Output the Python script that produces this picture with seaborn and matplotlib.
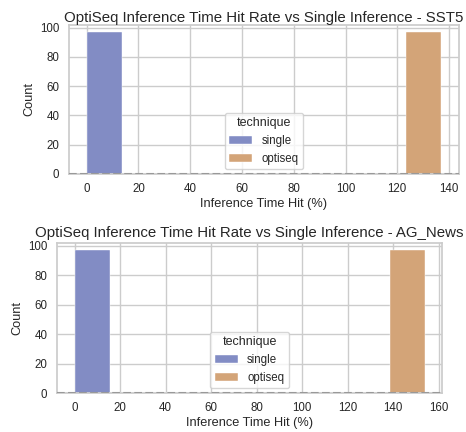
import matplotlib
matplotlib.use("Agg")
import matplotlib.pyplot as plt
import seaborn as sns
import pandas as pd

# Data
techniques = ["single", "optiseq"]
sst5_hit = [0.0, 137.0]        # inference time hit (%)
sst5_count = [97, 97]
ag_hit = [0.0, 153.7]
ag_count = [97, 97]
n_bins = 10

titles = [
    "OptiSeq Inference Time Hit Rate vs Single Inference - SST5",
    "OptiSeq Inference Time Hit Rate vs Single Inference - AG_News",
]

sns.set_theme(style="whitegrid")
plt.rcParams["font.family"] = ["Liberation Sans", "DejaVu Sans"]
plt.rcParams["xtick.major.pad"] = 6.5
plt.rcParams["ytick.major.pad"] = 7

palette = {"single": "#828cc4", "optiseq": "#d3a478"}

fig = plt.figure(figsize=(4.66, 4.32), dpi=100)
ax1 = fig.add_axes([69 / 466, 1 - 174 / 432, 390 / 466, 149 / 432])
ax2 = fig.add_axes([57 / 466, 1 - 393 / 432, 385 / 466, 150 / 432])

datasets = [(ax1, sst5_hit, sst5_count, titles[0], 2),
            (ax2, ag_hit, ag_count, titles[1], 4)]

for ax, hits, counts, title, pad in datasets:
    df = pd.DataFrame({"hit": hits, "count": counts, "technique": techniques})
    sns.histplot(data=df, x="hit", weights="count", hue="technique",
                 hue_order=techniques, bins=n_bins, palette=palette,
                 alpha=1.0, edgecolor="white", linewidth=0.3, ax=ax)
    ax.axhline(0, color="#999999", linestyle="--", linewidth=1.5, zorder=3)
    ax.set_title(title, fontsize=10.8, pad=pad)
    ax.set_xlabel("Inference Time Hit (%)", fontsize=9.2, labelpad=2)
    ax.set_ylabel("Count", fontsize=9.2, labelpad=3)
    ax.tick_params(labelsize=8.3, length=0)
    for s in ax.spines.values():
        s.set_color("#cccccc")
    sns.move_legend(ax, "lower center", title="technique", fontsize=8.3,
                    title_fontsize=9, frameon=True, borderaxespad=0.4)

ax1.set_xticks([0, 20, 40, 60, 80, 100, 120, 140])
ax2.set_xticks([0, 20, 40, 60, 80, 100, 120, 140, 160])
ax1.set_yticks([0, 20, 40, 60, 80, 100])
ax2.set_yticks([0, 20, 40, 60, 80, 100])

fig.savefig("out.png", dpi=100)
